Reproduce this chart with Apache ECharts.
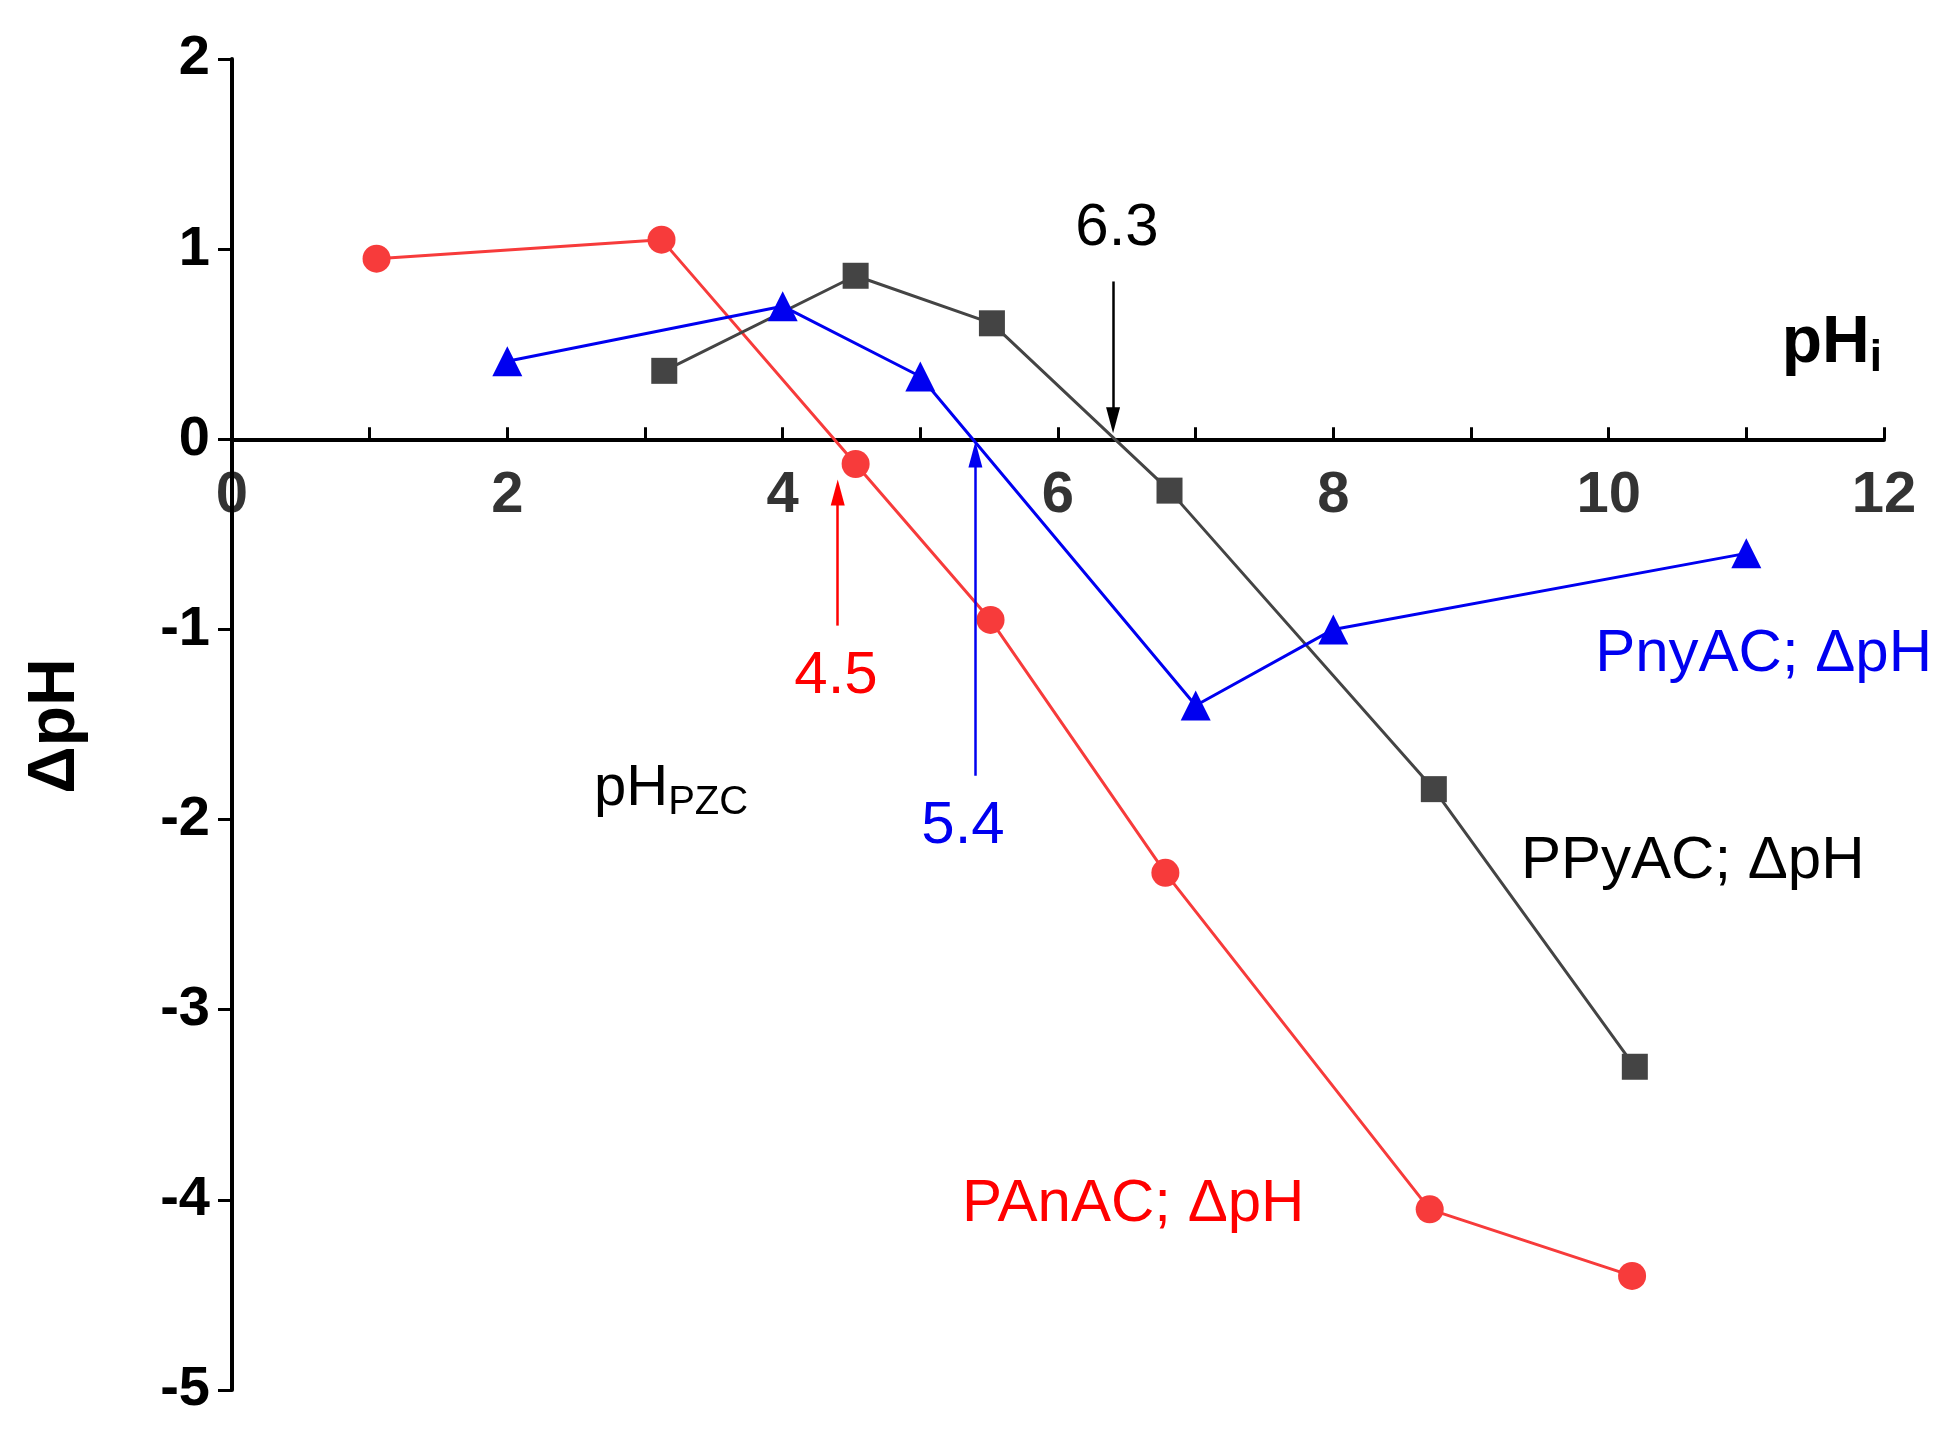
<!DOCTYPE html>
<html><head><meta charset="utf-8">
<script src="https://cdn.jsdelivr.net/npm/echarts@6/dist/echarts.min.js"></script>
<style>html,body{margin:0;background:#fff}#c{width:1953px;height:1437px}</style>
</head><body><div id="c"></div>
<script>
const panacX = [1.05, 3.12, 4.53, 5.51, 6.78, 8.7, 10.17]
const panacY = [0.95, 1.05, -0.13, -0.95, -2.28, -4.05, -4.4]
const ppyacX = [3.14, 4.53, 5.52, 6.81, 8.73, 10.19]
const ppyacY = [0.36, 0.86, 0.61, -0.27, -1.84, -3.3]
const pnyacX = [2, 4, 5, 7, 8, 11]
const pnyacY = [0.41, 0.7, 0.33, -1.4, -1.0, -0.6]
const xTicks = [0, 2, 4, 6, 8, 10, 12]
const yTicks = [2, 1, 0, -1, -2, -3, -4, -5]

const zip = (xs, ys) => xs.map((x, i) => [x, ys[i]])
const font = 'Liberation Sans, Arial, sans-serif'

function arrow(x, y1, y2, color) {
  return {
    silent: true, symbol: ['none', 'triangle'], symbolSize: [14, 26],
    label: { show: false },
    lineStyle: { color: color, width: 2.5, type: 'solid' },
    data: [[{ coord: [x, y1] }, { coord: [x, y2] }]]
  }
}

const chart = echarts.init(document.getElementById('c'))
chart.setOption({
  animation: false,
  grid: { left: 232, right: 69, top: 59, bottom: 47, containLabel: false },
  xAxis: {
    type: 'value', min: 0, max: 12, interval: 2,
    axisLine: { onZero: true, lineStyle: { color: '#000', width: 4 } },
    axisTick: { inside: true, length: 12, lineStyle: { color: '#000', width: 3 } },
    minorTick: { show: true, splitNumber: 2, length: 12, lineStyle: { color: '#000', width: 3 } },
    splitLine: { show: false },
    axisLabel: { show: false }
  },
  yAxis: {
    type: 'value', min: -5, max: 2, interval: 1,
    axisLine: { show: true, onZero: false, lineStyle: { color: '#000', width: 4 } },
    axisTick: { show: true, length: 14, lineStyle: { color: '#000', width: 3 } },
    splitLine: { show: false },
    axisLabel: { color: '#000', fontSize: 56, fontWeight: 'bold', fontFamily: font, margin: 22,
      formatter: v => yTicks.includes(v) ? String(v) : '' }
  },
  series: [
    { name: 'PAnAC', type: 'line', data: zip(panacX, panacY), symbol: 'circle', symbolSize: 28,
      itemStyle: { color: '#f73b3b' }, lineStyle: { color: '#f73b3b', width: 3 },
      markLine: arrow(4.4, -0.98, -0.28, '#f00') },
    { name: 'PPyAC', type: 'line', data: zip(ppyacX, ppyacY), symbol: 'rect', symbolSize: 26,
      itemStyle: { color: '#444' }, lineStyle: { color: '#444', width: 3 },
      markLine: arrow(6.4, 0.83, 0.1, '#000') },
    { name: 'PnyAC', type: 'line', data: zip(pnyacX, pnyacY), symbol: 'triangle', symbolSize: 30,
      itemStyle: { color: '#0000f0' }, lineStyle: { color: '#0000f0', width: 3 },
      markLine: arrow(5.4, -1.77, -0.08, '#0000f0') },
    { name: 'xlabels', type: 'scatter', silent: true, z: 1, symbolSize: 0,
      data: xTicks.map(v => [v, 0]),
      label: { show: true, position: 'bottom', distance: 28, color: '#000', fontSize: 58, fontWeight: 'bold',
        fontFamily: font, formatter: p => String(p.value[0]) } }
  ],
  graphic: [
    { type: 'text', x: 1117, y: 228, style: { text: '6.3', fill: '#000', font: '60px ' + font, align: 'center', verticalAlign: 'middle' } },
    { type: 'text', x: 836, y: 676, style: { text: '4.5', fill: '#f00', font: '60px ' + font, align: 'center', verticalAlign: 'middle' } },
    { type: 'text', x: 963, y: 826, style: { text: '5.4', fill: '#0000f0', font: '60px ' + font, align: 'center', verticalAlign: 'middle' } },
    { type: 'text', x: 594, y: 789, style: { text: '{a|pH}{b|PZC}', fill: '#000', verticalAlign: 'middle',
      rich: { a: { fontSize: 58, fontFamily: font, fill: '#000' }, b: { fontSize: 40, fontFamily: font, fill: '#000', padding: [28, 0, 0, 0] } } } },
    { type: 'text', x: 1932, y: 654, style: { text: 'PnyAC; ΔpH', fill: '#0000f0', font: '60px ' + font, align: 'right', verticalAlign: 'middle' } },
    { type: 'text', x: 1521, y: 861, style: { text: 'PPyAC; ΔpH', fill: '#000', font: '60px ' + font, align: 'left', verticalAlign: 'middle' } },
    { type: 'text', x: 962, y: 1204, style: { text: 'PAnAC; ΔpH', fill: '#f00', font: '60px ' + font, align: 'left', verticalAlign: 'middle' } },
    { type: 'text', x: 1882, y: 344, style: { text: '{a|pH}{b|i}', align: 'right', verticalAlign: 'middle',
      rich: { a: { fontSize: 66, fontWeight: 'bold', fontFamily: font, fill: '#000' }, b: { fontSize: 44, fontWeight: 'bold', fontFamily: font, fill: '#000', padding: [30, 0, 0, 0] } } } },
    { type: 'text', x: 56, y: 726, rotation: Math.PI / 2, style: { text: 'ΔpH', fill: '#000', font: 'bold 66px ' + font, align: 'center', verticalAlign: 'middle' } }
  ]
})
</script></body></html>
